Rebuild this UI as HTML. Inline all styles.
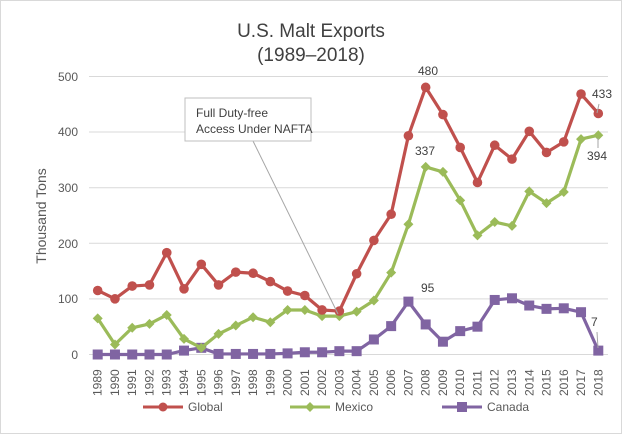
<!DOCTYPE html>
<html><head><meta charset="utf-8"><style>
body{margin:0;background:#fff}
svg{display:block;font-family:"Liberation Sans",sans-serif}
</style></head><body>
<svg width="623" height="435" viewBox="0 0 623 435" xmlns="http://www.w3.org/2000/svg">
<rect x="0.5" y="0.5" width="621" height="433" fill="#fff" stroke="#d9d9d9"/>
<text x="311" y="37" text-anchor="middle" font-size="19" fill="#404040">U.S. Malt Exports</text>
<text x="311" y="61" text-anchor="middle" font-size="19" fill="#404040">(1989–2018)</text>
<g stroke="#d9d9d9" stroke-width="1">
<line x1="89" x2="608" y1="76.5" y2="76.5"/><line x1="89" x2="608" y1="132" y2="132"/>
<line x1="89" x2="608" y1="187.7" y2="187.7"/><line x1="89" x2="608" y1="243.3" y2="243.3"/>
<line x1="89" x2="608" y1="298.9" y2="298.9"/><line x1="89" x2="608" y1="354.5" y2="354.5"/>
</g>
<g font-size="12" fill="#595959" text-anchor="end">
<text x="78" y="81">500</text><text x="78" y="136">400</text><text x="78" y="192">300</text>
<text x="78" y="248">200</text><text x="78" y="303">100</text><text x="78" y="359">0</text>
</g>
<text transform="translate(46,216) rotate(-90)" text-anchor="middle" font-size="14" fill="#595959">Thousand Tons</text>
<g id="xl" font-size="12" fill="#595959"></g>
<g id="series"></g>
<line x1="253" y1="141" x2="338" y2="314" stroke="#a6a6a6" stroke-width="1"/>
<rect x="185" y="98" width="126" height="43" fill="#fff" stroke="#bfbfbf"/>
<text x="196" y="117" font-size="12" fill="#404040">Full Duty-free</text>
<text x="196" y="133" font-size="12" fill="#404040">Access Under NAFTA</text>
<g font-size="12" fill="#404040">
<text x="418" y="75">480</text><text x="415" y="155">337</text><text x="421" y="292">95</text>
<text x="592" y="98">433</text><text x="587" y="160">394</text><text x="591" y="326">7</text>
</g>
<g stroke="#a6a6a6"><line x1="599" y1="104" x2="597" y2="113"/><line x1="598" y1="148" x2="598" y2="138"/><line x1="597" y1="332" x2="598" y2="348"/></g>
<g font-size="12" fill="#595959">
<line x1="143" y1="407" x2="183" y2="407" stroke="#c0504d" stroke-width="3"/><circle cx="163" cy="407" r="4.5" fill="#c0504d"/>
<text x="188" y="411">Global</text>
<line x1="290" y1="407" x2="330" y2="407" stroke="#9bbb59" stroke-width="3"/><path d="M310 402l5 5-5 5-5-5z" fill="#9bbb59"/>
<text x="335" y="411">Mexico</text>
<line x1="442" y1="407" x2="482" y2="407" stroke="#8064a2" stroke-width="3"/><rect x="457" y="402" width="10" height="10" fill="#8064a2"/>
<text x="487" y="411">Canada</text>
</g>
</svg>
<script>
var g=[115,100,123,125,183,118,162,125,148,146,131,114,106,80,78,145,205,252,393,480,431,372,309,376,351,401,363,382,468,433];
var m=[65,18,48,55,71,28,12,37,52,67,58,80,80,69,69,77,97,147,234,337,328,277,214,238,231,293,272,292,387,394];
var c=[0,0,0,0,0,7,12,1,1,1,1,2,4,4,6,6,27,51,95,54,23,42,50,98,101,88,82,83,76,7];
var X=i=>97.7+i*17.262,Y=v=>354.5-v*0.5566,ns="http://www.w3.org/2000/svg";
var s=document.getElementById('series'),xl=document.getElementById('xl');
function el(t,a,p){var e=document.createElementNS(ns,t);for(var k in a)e.setAttribute(k,a[k]);(p||s).appendChild(e);return e;}
for(var i=0;i<30;i++){var t=el('text',{transform:'translate('+(X(i)+4)+',396) rotate(-90)'},xl);t.textContent=1989+i;}
function line(d,col,mk){el('polyline',{points:d.map((v,i)=>X(i)+','+Y(v)).join(' '),fill:'none',stroke:col,'stroke-width':3.2,'stroke-linejoin':'round'});
d.forEach((v,i)=>{var x=X(i),y=Y(v);if(mk=='c')el('circle',{cx:x,cy:y,r:4.8,fill:col});else if(mk=='d')el('path',{d:'M'+x+' '+(y-5)+'l5 5-5 5-5-5z',fill:col});else el('rect',{x:x-5,y:y-5,width:10,height:10,fill:col});});}
line(c,'#8064a2','s');line(m,'#9bbb59','d');line(g,'#c0504d','c');
</script>
</body></html>
